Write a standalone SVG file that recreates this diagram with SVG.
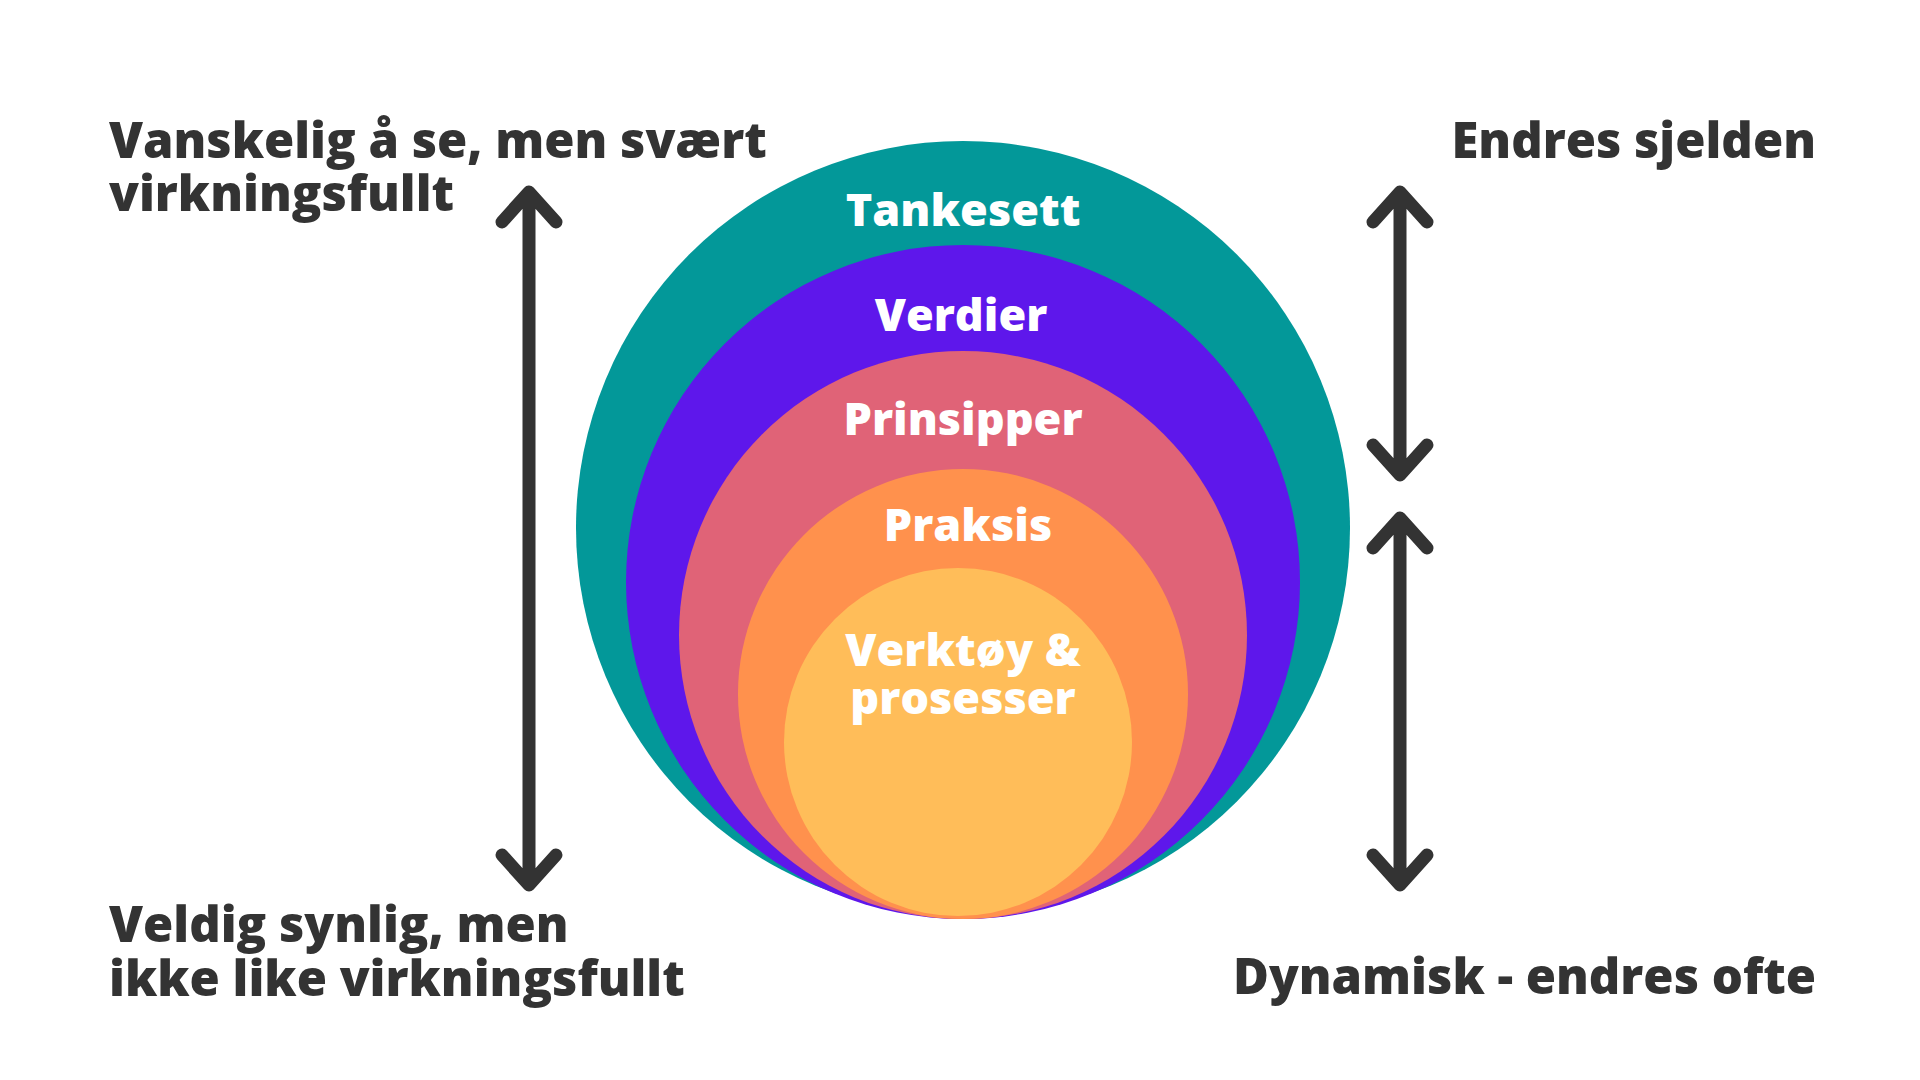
<svg xmlns="http://www.w3.org/2000/svg" width="1920" height="1080" viewBox="0 0 1920 1080">
<style>
.lbl{font-family:"Open Sans","DejaVu Sans",sans-serif;font-weight:800;fill:#fff;font-size:45px;text-anchor:middle}
.side{font-family:"Open Sans","DejaVu Sans",sans-serif;font-weight:800;fill:#333;font-size:49px}
.arr{stroke:#333;stroke-width:13;fill:none;stroke-linecap:round;stroke-linejoin:round}
</style>
<rect width="1920" height="1080" fill="#fff"/>
<g id="tankesett"><circle cx="963" cy="528" r="387" fill="#039899"/><text class="lbl" x="963" y="226">Tankesett</text></g>
<g id="verdier"><circle cx="963" cy="582" r="337" fill="#5E17EB"/><text class="lbl" x="961" y="331">Verdier</text></g>
<g id="prinsipper"><circle cx="963" cy="635" r="284" fill="#E06377"/><text class="lbl" x="963" y="435">Prinsipper</text></g>
<g id="praksis"><circle cx="963" cy="694" r="225" fill="#FF914D"/><text class="lbl" x="968" y="541">Praksis</text></g>
<g id="verktoy"><circle cx="958" cy="742" r="174" fill="#FFBD59"/><text class="lbl" x="963" y="666">Verktøy &amp;</text><text class="lbl" x="963" y="714">prosesser</text></g>
<g id="texts">
<text class="side" x="109" y="158">Vanskelig å se, men svært</text>
<text class="side" x="109" y="211">virkningsfullt</text>
<text class="side" x="109" y="942">Veldig synlig, men</text>
<text class="side" x="109" y="996">ikke like virkningsfullt</text>
<text class="side" x="1816" y="158" text-anchor="end">Endres sjelden</text>
<text class="side" x="1816" y="994" text-anchor="end">Dynamisk - endres ofte</text>
</g>
<g id="connectors" class="arr">
<path d="M529 192V885M502 222L529 192L556 222M502 855L529 885L556 855"/>
<path d="M1400 192V475M1373 222L1400 192L1427 222M1373 445L1400 475L1427 445"/>
<path d="M1400 518V885M1373 548L1400 518L1427 548M1373 855L1400 885L1427 855"/>
</g>
</svg>
